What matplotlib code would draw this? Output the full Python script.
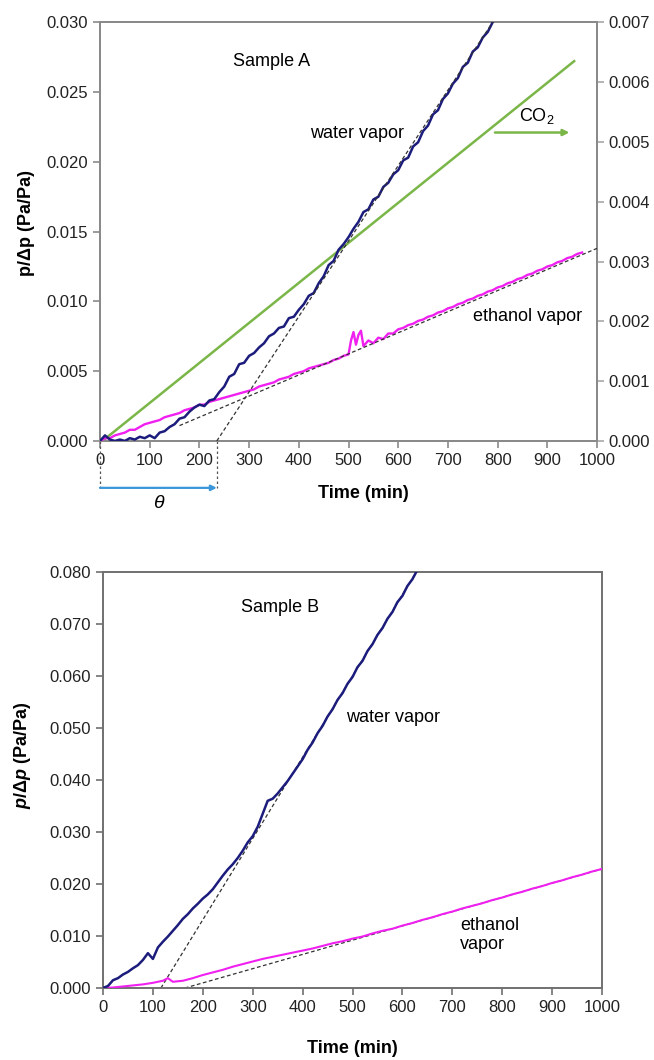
import matplotlib
matplotlib.use("Agg")
import matplotlib.pyplot as plt
from matplotlib.ticker import FormatStrFormatter

plt.rcParams['font.family'] = ['Liberation Sans', 'DejaVu Sans']
plt.rcParams['mathtext.fontset'] = 'custom'
plt.rcParams['mathtext.rm'] = 'Liberation Sans'
plt.rcParams['mathtext.it'] = 'Liberation Sans:italic'
plt.rcParams['mathtext.bf'] = 'Liberation Sans:bold'
if 'mathtext.bfit' in plt.rcParams:
    plt.rcParams['mathtext.bfit'] = 'Liberation Sans:italic:bold'

# ---- Sample A data ----
water_a_t = list(range(0, 800, 10))
water_a = [0.0000, 0.0004, 0.0001, 0.0000, 0.0001, 0.0000, 0.0002, 0.0001, 0.0003, 0.0002,
           0.0004, 0.0002, 0.0006, 0.0007, 0.0010, 0.0012, 0.0016, 0.0017, 0.0021, 0.0024,
           0.0026, 0.0025, 0.0029, 0.0030, 0.0035, 0.0039, 0.0046, 0.0048, 0.0055, 0.0056,
           0.0061, 0.0063, 0.0067, 0.0070, 0.0075, 0.0077, 0.0081, 0.0082, 0.0088, 0.0089,
           0.0094, 0.0098, 0.0104, 0.0106, 0.0113, 0.0118, 0.0126, 0.0129, 0.0137, 0.0141,
           0.0146, 0.0152, 0.0157, 0.0164, 0.0166, 0.0173, 0.0175, 0.0182, 0.0185, 0.0191,
           0.0194, 0.0201, 0.0203, 0.0211, 0.0214, 0.0222, 0.0226, 0.0234, 0.0237, 0.0245,
           0.0249, 0.0256, 0.0260, 0.0268, 0.0271, 0.0279, 0.0282, 0.0289, 0.0293, 0.0300]

eth_a_t = list(range(0, 510, 10)) + [505, 510, 515, 520, 525, 530] + list(range(540, 980, 10))
eth_a_t = sorted(set(eth_a_t))
eth_a = [0.0000, 0.0002, 0.0002, 0.0004, 0.0005, 0.0006, 0.0008, 0.0008, 0.0010, 0.0012,
         0.0013, 0.0014, 0.0015, 0.0017, 0.0018, 0.0019, 0.0020, 0.0022, 0.0023, 0.0024,
         0.0026, 0.0026, 0.0028, 0.0029, 0.0030, 0.0031, 0.0032, 0.0033, 0.0034, 0.0035,
         0.0036, 0.0037, 0.0039, 0.0040, 0.0041, 0.0042, 0.0044, 0.0045, 0.0046, 0.0048,
         0.0049, 0.0050, 0.0052, 0.0053, 0.0054, 0.0055, 0.0056, 0.0058, 0.0059, 0.0061,
         0.0062,
         0.0072, 0.0078, 0.0069, 0.0076, 0.0079, 0.0068,
         0.0072, 0.0070, 0.0074, 0.0073, 0.0077, 0.0077, 0.0080, 0.0081, 0.0083, 0.0084,
         0.0086, 0.0087, 0.0089, 0.0090, 0.0092, 0.0093, 0.0095, 0.0096, 0.0098, 0.0099,
         0.0101, 0.0102, 0.0104, 0.0105, 0.0107, 0.0108, 0.0110, 0.0111, 0.0113, 0.0114,
         0.0116, 0.0117, 0.0119, 0.0120, 0.0122, 0.0123, 0.0125, 0.0126, 0.0128, 0.0129,
         0.0131, 0.0132, 0.0134, 0.0135]

co2_t = [5, 954]
co2 = [0.0, 0.00635]

water_a_fit_t = [235, 790]
water_a_fit = [0.0, 0.0300]
eth_a_fit_t = [160, 1000]
eth_a_fit = [0.0011, 0.0138]
theta = 235

# ---- Sample B data ----
water_b_t = list(range(0, 650, 10))
water_b = [0.0000, 0.0004, 0.0015, 0.0019, 0.0026, 0.0031, 0.0038, 0.0044, 0.0054, 0.0067,
           0.0056, 0.0078, 0.0089, 0.0099, 0.0110, 0.0121, 0.0133, 0.0142, 0.0153, 0.0162,
           0.0172, 0.0180, 0.0190, 0.0203, 0.0216, 0.0228, 0.0238, 0.0250, 0.0264, 0.0280,
           0.0292, 0.0310, 0.0335, 0.0360, 0.0364, 0.0374, 0.0386, 0.0398, 0.0412, 0.0426,
           0.0440, 0.0458, 0.0472, 0.0490, 0.0504, 0.0522, 0.0536, 0.0554, 0.0567, 0.0585,
           0.0598, 0.0617, 0.0629, 0.0648, 0.0661, 0.0679, 0.0692, 0.0710, 0.0723, 0.0742,
           0.0754, 0.0773, 0.0786, 0.0804, 0.0818]

eth_b_t = [0, 20, 40, 60, 80, 100, 120, 130, 140, 160, 180, 200, 220, 240, 260, 280, 300,
           320, 340, 360, 380, 400, 420, 440, 460, 480, 500, 520, 540, 560, 580, 600, 620,
           640, 660, 680, 700, 720, 740, 760, 780, 800, 820, 840, 860, 880, 900, 920, 940,
           960, 980, 1000]
eth_b = [0.0000, 0.0001, 0.0003, 0.0005, 0.0007, 0.0010, 0.0014, 0.0019, 0.0012, 0.0014,
         0.0019, 0.0025, 0.0030, 0.0035, 0.0041, 0.0046, 0.0051, 0.0056, 0.0060, 0.0064,
         0.0068, 0.0072, 0.0076, 0.0081, 0.0086, 0.0090, 0.0095, 0.0099, 0.0105, 0.0110,
         0.0114, 0.0120, 0.0125, 0.0131, 0.0136, 0.0142, 0.0147, 0.0153, 0.0158, 0.0163,
         0.0169, 0.0174, 0.0180, 0.0185, 0.0191, 0.0196, 0.0202, 0.0207, 0.0213, 0.0218,
         0.0224, 0.0229]

water_b_fit_t = [116, 628]
water_b_fit = [0.0, 0.080]
eth_b_fit_t = [164, 1000]
eth_b_fit = [0.0, 0.0229]

NAVY = "#1c1c7c"
MAGENTA = "#f020f0"
GREEN = "#7ab648"
SPINE = "#8a8a8a"


def style_axis(ax, color=SPINE):
    for s in ax.spines.values():
        s.set_color(color)
        s.set_linewidth(1.4)
    ax.tick_params(direction='out', length=5, width=1.2, color=color,
                   labelcolor="#222222", labelsize=12)


fig = plt.figure(figsize=(6.54, 10.6), dpi=100)

# ---------------- Sample A ----------------
ax1 = fig.add_axes([0.1529, 0.584, 0.760, 0.395])
ax1.plot(water_a_fit_t, water_a_fit, color="#333333", lw=0.9, ls=(0, (3, 2)), zorder=4)
ax1.plot(eth_a_fit_t, eth_a_fit, color="#333333", lw=0.9, ls=(0, (3, 2)), zorder=4)
ax1.plot(eth_a_t, eth_a, color=MAGENTA, lw=1.7, zorder=3)
ax1.plot(water_a_t, water_a, color=NAVY, lw=1.8, zorder=3)
ax1.set_xlim(0, 1000)
ax1.set_ylim(0, 0.030)
ax1.set_xticks(range(0, 1001, 100))
ax1.set_yticks([0, 0.005, 0.010, 0.015, 0.020, 0.025, 0.030])
ax1.yaxis.set_major_formatter(FormatStrFormatter('%.3f'))
style_axis(ax1)

ax1r = ax1.twinx()
ax1r.plot(co2_t, co2, color=GREEN, lw=1.8, zorder=2)
ax1r.set_ylim(0, 0.007)
ax1r.set_yticks([0, 0.001, 0.002, 0.003, 0.004, 0.005, 0.006, 0.007])
ax1r.yaxis.set_major_formatter(FormatStrFormatter('%.3f'))
style_axis(ax1r, "#a8a8a8")
ax1.set_zorder(ax1r.get_zorder() + 1)
ax1.patch.set_visible(False)

ax1.set_xlabel("Time (min)", fontsize=13, fontweight='bold')
ax1.xaxis.set_label_coords(0.53, -0.105)
ax1.set_ylabel("p/Δp (Pa/Pa)", fontsize=13, fontweight='bold')
ax1.yaxis.set_label_coords(-0.13, 0.52)

ax1.text(346, 0.0272, "Sample A", fontsize=13, ha='center', va='center')
ax1.text(423, 0.0220, "water vapor", fontsize=13, ha='left', va='center')
ax1.text(750, 0.0089, "ethanol vapor", fontsize=13, ha='left', va='center')
ax1.text(879, 0.0226, r"CO$_\mathregular{2}$", fontsize=13, ha='center', va='bottom')
ax1.annotate("", xy=(950, 0.0221), xytext=(789, 0.0221),
             arrowprops=dict(arrowstyle='-|>', color=GREEN, lw=1.8, mutation_scale=9))

# time-lag marker below the axis
y_arrow = -0.00336
ax1.plot([0, 0], [0, y_arrow], color="#555555", lw=0.9, ls=(0, (2, 2)), clip_on=False)
ax1.plot([theta, theta], [0, y_arrow], color="#555555", lw=0.9, ls=(0, (2, 2)), clip_on=False)
ax1.annotate("", xy=(theta, y_arrow), xytext=(0, y_arrow), annotation_clip=False,
             arrowprops=dict(arrowstyle='-|>', color="#3a96d8", lw=1.6, mutation_scale=8,
                             shrinkA=0, shrinkB=0))
ax1.text(theta / 2, -0.0045, "θ", fontsize=14, style='italic', ha='center', va='center')

# ---------------- Sample B ----------------
ax2 = fig.add_axes([0.1575, 0.0679, 0.763, 0.3925])
ax2.plot(water_b_fit_t, water_b_fit, color="#333333", lw=0.9, ls=(0, (3, 2)), zorder=2)
ax2.plot(eth_b_fit_t, eth_b_fit, color="#333333", lw=0.9, ls=(0, (3, 2)), zorder=2)
ax2.plot(eth_b_t, eth_b, color=MAGENTA, lw=1.5, zorder=3)
ax2.plot(water_b_t, water_b, color=NAVY, lw=1.8, zorder=3)
ax2.set_xlim(0, 1000)
ax2.set_ylim(0, 0.080)
ax2.set_xticks(range(0, 1001, 100))
ax2.set_yticks([i / 100 for i in range(0, 9)])
ax2.yaxis.set_major_formatter(FormatStrFormatter('%.3f'))
style_axis(ax2, "#707070")

ax2.set_xlabel("Time (min)", fontsize=13, fontweight='bold')
ax2.xaxis.set_label_coords(0.5, -0.125)
ax2.set_ylabel(r"$\mathbfit{p}$/Δ$\mathbfit{p}$ (Pa/Pa)", fontsize=13, fontweight='bold')
ax2.yaxis.set_label_coords(-0.14, 0.56)

ax2.text(355, 0.0732, "Sample B", fontsize=13, ha='center', va='center')
ax2.text(487, 0.0521, "water vapor", fontsize=13, ha='left', va='center')
ax2.text(715, 0.0102, "ethanol\nvapor", fontsize=13, ha='left', va='center', linespacing=1.2)

fig.savefig("out.png", dpi=100)
